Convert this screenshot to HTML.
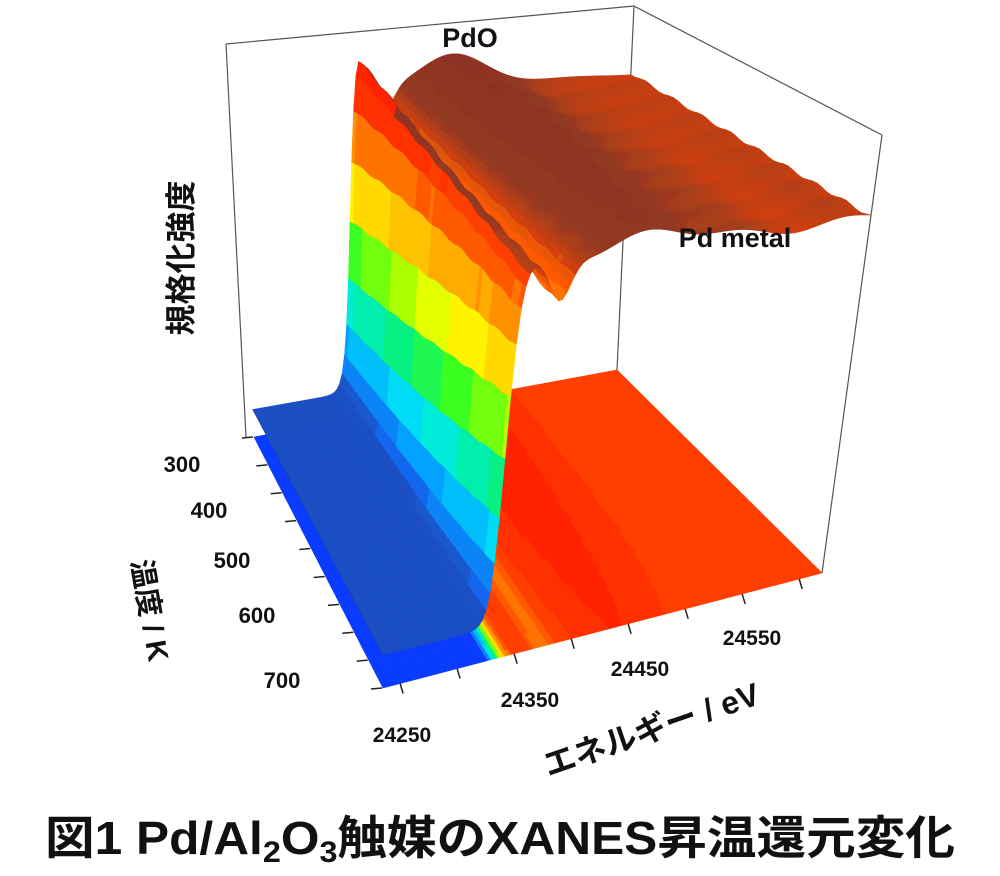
<!DOCTYPE html>
<html><head><meta charset="utf-8">
<style>
html,body{margin:0;padding:0;background:#fff;}
#w{position:relative;width:1000px;height:876px;overflow:hidden;}
svg{position:absolute;left:0;top:0;}
</style></head>
<body><div id="w">
<svg id="s" width="1000" height="876" xmlns="http://www.w3.org/2000/svg">
<g id="floor"></g>
<g id="box" stroke="#555" stroke-width="1.2" fill="none">
<line x1="226" y1="44" x2="246" y2="437"/>
<line x1="226" y1="44" x2="634" y2="6"/>
<line x1="634" y1="6" x2="617" y2="370"/>
<line x1="634" y1="6" x2="882" y2="135"/>
<line x1="882" y1="135" x2="822" y2="573"/>
</g>
<g id="surf"></g>
<g id="ticks" stroke="#222" stroke-width="1.5"></g>
<g font-family="'Liberation Sans','Noto Sans CJK JP',sans-serif" font-weight="bold" fill="#111">
<text x="470" y="47" font-size="27" text-anchor="middle">PdO</text>
<text x="735" y="247" font-size="27" text-anchor="middle">Pd metal</text>
<text x="182" y="472" font-size="22" text-anchor="middle">300</text>
<text x="209" y="518" font-size="22" text-anchor="middle">400</text>
<text x="232" y="568" font-size="22" text-anchor="middle">500</text>
<text x="257" y="623" font-size="22" text-anchor="middle">600</text>
<text x="282" y="688" font-size="22" text-anchor="middle">700</text>
<text x="402" y="742" font-size="21" text-anchor="middle">24250</text>
<text x="530" y="707" font-size="21" text-anchor="middle">24350</text>
<text x="640" y="676" font-size="21" text-anchor="middle">24450</text>
<text x="752" y="645" font-size="21" text-anchor="middle">24550</text>
<text transform="translate(192,258) rotate(-90)" font-size="31" text-anchor="middle">規格化強度</text>
<text transform="translate(140,612) rotate(80)" font-size="29" text-anchor="middle">温度 / K</text>
<text transform="translate(655,740) rotate(-19)" font-size="32" text-anchor="middle">エネルギー / eV</text>
<text x="45" y="854" font-size="46" textLength="910" lengthAdjust="spacingAndGlyphs">図1  Pd/Al<tspan font-size="30" dy="8">2</tspan><tspan dy="-8">O</tspan><tspan font-size="30" dy="8">3</tspan><tspan dy="-8">触媒のXANES昇温還元変化</tspan></text>
</g>
</svg>
</div>
<script>
(function(){
var A=[254,437],B=[617,370],C=[822,573],D=[383,688];
var HA=393,HB=364,HC=438,HD=472;
var SA=-0.05,SB=0.047,SC=0.137,SD=0.0;
function bl(a,b,c,d,u,v){return a*(1-u)*(1-v)+b*u*(1-v)+d*(1-u)*v+c*u*v;}
function P(u,v,z){
 var fx=bl(A[0],B[0],C[0],D[0],u,v),fy=bl(A[1],B[1],C[1],D[1],u,v);
 var H=bl(HA,HB,HC,HD,u,v),S=bl(SA,SB,SC,SD,u,v);
 return [fx+S*H*z,fy-H*z];
}
function Z(u,v,nz){
 var u0=0.275-0.012*v;
 var s=1/(1+Math.exp(-(u-u0)/0.011));
 var base=0.07+0.76*s;
 var wl=(1-v)*0.13*Math.exp(-Math.pow((u-u0-0.03)/0.022,2));
 var hump=(0.09-0.05*v)*Math.exp(-Math.pow((u-0.55)/0.12,2));
 var dip=-(0.05+0.04*v)*Math.exp(-Math.pow((u-u0-0.1)/0.03,2))*s;
 var osc=s*0.008*v*Math.sin((u-u0)*30);
 var drift=-0.03*(u-0.5)*s;
 var noise=nz?0.004*Math.sin(v*53+u*17)*s:0;
 return base+wl+hump+dip+osc+drift+noise;
}
var stops=[[0,[30,60,200]],[0.12,[20,100,240]],[0.2,[0,168,255]],[0.28,[0,235,240]],[0.36,[0,240,140]],[0.44,[60,255,30]],[0.5,[160,255,0]],[0.56,[255,255,0]],[0.63,[255,205,0]],[0.7,[255,160,0]],[0.76,[255,110,0]],[0.82,[255,64,0]],[0.9,[255,32,0]],[1.0,[225,20,15]]];
function cmap(z){
 z=Math.floor(z/0.035)*0.035+0.0175;
 if(z<=0)return stops[0][1];
 for(var i=1;i<stops.length;i++){if(z<=stops[i][0]){var a=stops[i-1],b=stops[i],t=(z-a[0])/(b[0]-a[0]);return [a[1][0]+(b[1][0]-a[1][0])*t,a[1][1]+(b[1][1]-a[1][1])*t,a[1][2]+(b[1][2]-a[1][2])*t];}}
 return stops[stops.length-1][1];
}
function rgb(c){return "rgb("+Math.round(c[0])+","+Math.round(c[1])+","+Math.round(c[2])+")";}
var NU=130,NV=50;
var zs=[],zf=[];
for(var j=0;j<=NV;j++){zs[j]=[];zf[j]=[];for(var i=0;i<=NU;i++){zs[j][i]=Z(i/NU,j/NV,true);zf[j][i]=Z(i/NU,j/NV,false);}}
var fl=document.getElementById("floor"),h="";
for(var j=0;j<NV;j++)for(var i=0;i<NU;i++){
 var u=i/NU,v=j/NV,du=1/NU,dv=1/NV;
 var z=(zf[j][i]+zf[j][i+1]+zf[j+1][i]+zf[j+1][i+1])/4;
 var c;
 if(z<0.15)c=[10,60,255];else c=cmap(z);
 var p1=P(u,v,0),p2=P(u+du,v,0),p3=P(u+du,v+dv,0),p4=P(u,v+dv,0);
 var col=rgb(c);
 h+='<polygon points="'+p1+' '+p2+' '+p3+' '+p4+'" fill="'+col+'" stroke="'+col+'" stroke-width="0.6"/>';
}
fl.innerHTML=h;
var sf=document.getElementById("surf");h="";
for(var j=0;j<NV;j++)for(var i=NU-1;i>=0;i--){
 var u=i/NU,v=j/NV,du=1/NU,dv=1/NV;
 var z1=zs[j][i],z2=zs[j][i+1],z3=zs[j+1][i+1],z4=zs[j+1][i];
 var z=(z1+z2+z3+z4)/4;
 var c=cmap(z);
 var slope=Math.abs(z2-z1)*NU;
 if(z>0.78&&slope<3){var m=Math.min(1,(z-0.78)/0.07)*0.62;c=[c[0]*(1-m)+80*m,c[1]*(1-m)+62*m,c[2]*(1-m)+55*m];}
 if(z<0.12){c=[c[0]*0.75+40*0.25,c[1]*0.75+50*0.25,c[2]*0.75+100*0.25];}
 var p1=P(u,v,z1),p2=P(u+du,v,z2),p3=P(u+du,v+dv,z3),p4=P(u,v+dv,z4);
 var col=rgb(c);
 h+='<polygon points="'+p1+' '+p2+' '+p3+' '+p4+'" fill="'+col+'" stroke="'+col+'" stroke-width="0.5"/>';
 h+='<line x1="'+p1[0]+'" y1="'+p1[1]+'" x2="'+p4[0]+'" y2="'+p4[1]+'" stroke="rgba(40,40,40,0.5)" stroke-width="0.5"/>';
}
sf.innerHTML=h;
var tk=document.getElementById("ticks");h="";
for(var k=0;k<=9;k++){var v=k/9,p=P(0,v,0);h+='<line x1="'+(p[0]-12)+'" y1="'+(p[1]+1)+'" x2="'+(p[0]-1)+'" y2="'+p[1]+'"/>';}
var e0=24235,e1=24620;
for(var e=24250;e<=24600;e+=50){var u=(e-e0)/(e1-e0),p=P(u,1,0);h+='<line x1="'+p[0]+'" y1="'+p[1]+'" x2="'+(p[0]+3)+'" y2="'+(p[1]+10)+'"/>';}
tk.innerHTML=h;
})();
</script>
</body></html>
